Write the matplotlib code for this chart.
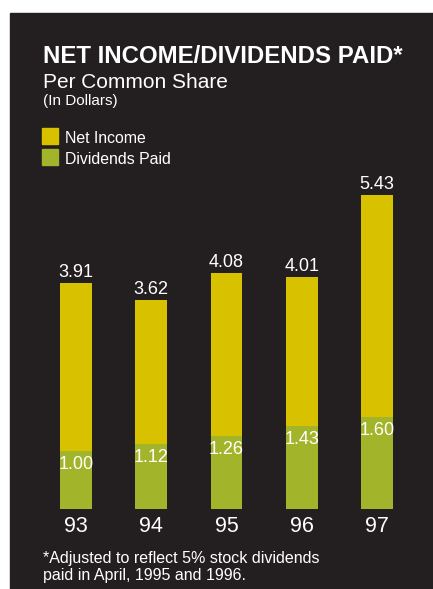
import matplotlib.pyplot as plt
from matplotlib.patches import Rectangle
from matplotlib.transforms import offset_copy

plt.rcParams["font.family"] = ["Liberation Sans", "DejaVu Sans"]

years = ["93", "94", "95", "96", "97"]
net_income = [3.91, 3.62, 4.08, 4.01, 5.43]
dividends = [1.00, 1.12, 1.26, 1.43, 1.60]

BG = "#231f20"
YELLOW = "#d8c200"
GREEN = "#a2b42a"
W, H = 433, 589

fig = plt.figure(figsize=(W / 100, H / 100), dpi=100, facecolor="white")
fig.patches.append(Rectangle((10 / W, 0), 1 - 10 / W, (H - 13) / H,
                             transform=fig.transFigure, color=BG, zorder=-5))

ax = fig.add_axes([38.4 / W, 80 / H, 376.2 / W, 346.8 / H])
ax.set_facecolor("none")
ax.set_zorder(2)
x = range(len(years))
ax.bar(x, net_income, width=0.425, color=YELLOW, zorder=2)
ax.bar(x, dividends, width=0.425, color=GREEN, zorder=3)
ax.set_xlim(-0.5, 4.5)
ax.set_ylim(0, 6)
ax.axis("off")


def shifted(dy):
    return offset_copy(ax.transData, fig, y=dy, units="points")


for i, (ni, dv, yr) in enumerate(zip(net_income, dividends, years)):
    ax.text(i, ni, f"{ni:.2f}", ha="center", va="baseline", color="white",
            fontsize=13, transform=shifted(4.3), clip_on=False)
    ax.text(i, dv, f"{dv:.2f}", ha="center", va="baseline", color="white",
            fontsize=13, transform=shifted(-13), zorder=5, clip_on=False)
    ax.text(i, 0, yr, ha="center", va="center", color="white",
            fontsize=15.5, transform=shifted(-12.5), clip_on=False)

# heading block
tx = 43 / W
fig.text(tx, 1 - 63 / H, "NET INCOME/DIVIDENDS PAID*", color="white",
         fontsize=17.3, fontweight="bold", va="baseline")
fig.text(tx, 1 - 88 / H, "Per Common Share", color="white",
         fontsize=15, va="baseline")
fig.text(tx, 1 - 105 / H, "(In Dollars)", color="white",
         fontsize=11, va="baseline")

# legend swatches
for y0, col, lab in [(128, YELLOW, "Net Income"), (149, GREEN, "Dividends Paid")]:
    fig.patches.append(Rectangle((42 / W, 1 - (y0 + 16) / H), 16 / W, 16 / H,
                                 transform=fig.transFigure, color=col))
    fig.text(65 / W, 1 - (y0 + 15) / H, lab, color="white",
             fontsize=11.4, va="baseline")

fig.text(tx, 1 - 563 / H, "*Adjusted to reflect 5% stock dividends",
         color="white", fontsize=11.5, va="baseline")
fig.text(tx, 1 - 580 / H, "paid in April, 1995 and 1996.",
         color="white", fontsize=11.5, va="baseline")

fig.savefig("out.png", dpi=100, facecolor="white")
